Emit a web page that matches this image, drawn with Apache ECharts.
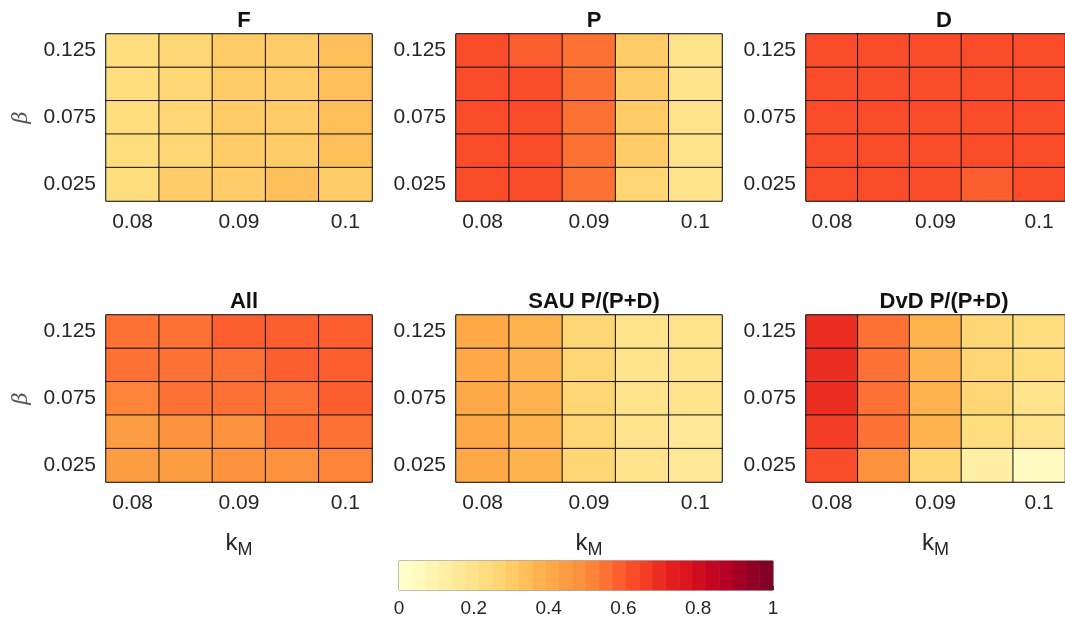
<!DOCTYPE html>
<html>
<head>
<meta charset="utf-8">
<script src="https://cdn.jsdelivr.net/npm/echarts@6/dist/echarts.min.js"></script>
<style>html,body{margin:0;padding:0;background:#fff;}#c{width:1065px;height:625px;}</style>
</head>
<body>
<div id="c"></div>
<script>
// ---- data (rows listed from top β=0.125 down to β=0.025; columns k_M 0.08 → 0.1) ----
const kM = ['0.08', '0.085', '0.09', '0.095', '0.1'];
const beta = ['0.025', '0.05', '0.075', '0.1', '0.125'];
const titles = ['F', 'P', 'D', 'All', 'SAU P/(P+D)', 'DvD P/(P+D)'];
const colorbarTicks = [0, 0.2, 0.4, 0.6, 0.8, 1];

const F = [
  [0.23, 0.27, 0.30, 0.30, 0.34],
  [0.23, 0.27, 0.30, 0.30, 0.34],
  [0.23, 0.27, 0.30, 0.30, 0.34],
  [0.23, 0.27, 0.30, 0.30, 0.34],
  [0.24, 0.30, 0.30, 0.35, 0.32]
];
const P = [
  [0.62, 0.59, 0.55, 0.30, 0.19],
  [0.62, 0.62, 0.55, 0.30, 0.19],
  [0.62, 0.62, 0.55, 0.30, 0.19],
  [0.62, 0.62, 0.55, 0.30, 0.19],
  [0.62, 0.62, 0.55, 0.27, 0.18]
];
const D = [
  [0.62, 0.62, 0.62, 0.62, 0.62],
  [0.62, 0.62, 0.62, 0.62, 0.62],
  [0.62, 0.62, 0.62, 0.62, 0.62],
  [0.62, 0.62, 0.62, 0.62, 0.62],
  [0.62, 0.62, 0.62, 0.59, 0.62]
];
const All = [
  [0.55, 0.55, 0.59, 0.59, 0.59],
  [0.55, 0.55, 0.55, 0.59, 0.59],
  [0.52, 0.55, 0.55, 0.55, 0.59],
  [0.45, 0.48, 0.48, 0.55, 0.55],
  [0.44, 0.44, 0.48, 0.48, 0.52]
];
const SAU = [
  [0.41, 0.36, 0.26, 0.21, 0.20],
  [0.41, 0.36, 0.27, 0.21, 0.20],
  [0.41, 0.36, 0.27, 0.21, 0.20],
  [0.41, 0.36, 0.27, 0.20, 0.16],
  [0.41, 0.36, 0.27, 0.19, 0.15]
];
const DvD = [
  [0.70, 0.55, 0.38, 0.27, 0.25],
  [0.70, 0.55, 0.38, 0.27, 0.23],
  [0.70, 0.55, 0.38, 0.27, 0.21],
  [0.66, 0.55, 0.38, 0.23, 0.18],
  [0.62, 0.48, 0.27, 0.13, 0.05]
];
const panels = [F, P, D, All, SAU, DvD];

// ---- colormap: 28-step YlOrRd ----
const anchors = ['#ffffcc','#ffeda0','#fed976','#feb24c','#fd8d3c','#fc4e2a','#e31a1c','#bd0026','#800026'];
const NSTEP = 28;
function hex2rgb(h){return [1,3,5].map(i=>parseInt(h.substr(i,2),16));}
function interp(t){
  const p = t*(anchors.length-1);
  const i = Math.min(Math.floor(p), anchors.length-2);
  const f = p - i;
  const a = hex2rgb(anchors[i]), b = hex2rgb(anchors[i+1]);
  return 'rgb(' + a.map((v,j)=>Math.round(v+(b[j]-v)*f)).join(',') + ')';
}
const pieces = [];
for (let k = 0; k < NSTEP; k++) {
  pieces.push({min: k/NSTEP, max: (k+1)/NSTEP, color: interp(k/(NSTEP-1))});
}
const cbCats = pieces.map((p, k) => String(k));
const cbData = pieces.map((p, k) => [k, 0, (p.min + p.max) / 2]);

// ---- layout ----
const FONT = '"Liberation Sans", Arial, Helvetica, sans-serif';
const TXT = '#262626';
const colLeft = [106, 456, 806];
const rowTop = [34, 315];
const GW = 266, GH = 167;

const grids = [], xAxes = [], yAxes = [], series = [], titleArr = [];
for (let p = 0; p < 6; p++) {
  const r = Math.floor(p / 3), c = p % 3;
  grids.push({left: colLeft[c], top: rowTop[r], width: GW, height: GH,
    show: true, borderColor: '#666', borderWidth: 1, backgroundColor: 'transparent'});
  xAxes.push({
    type: 'category', gridIndex: p, data: kM,
    axisLine: {show: false},
    axisTick: {show: true, inside: true, length: 3, interval: 1, alignWithLabel: true, lineStyle: {color: '#555'}},
    axisLabel: {interval: 1, fontSize: 21, color: TXT, fontFamily: FONT, margin: 11},
    splitLine: {show: false},
    name: r === 1 ? '{k|k}{m|M}' : '',
    nameLocation: 'middle', nameGap: 45,
    nameTextStyle: {rich: {
      k: {fontSize: 24, color: TXT, fontFamily: FONT},
      m: {fontSize: 18, color: TXT, fontFamily: FONT, padding: [14, 0, 0, 0]}
    }}
  });
  yAxes.push({
    type: 'category', gridIndex: p, data: beta,
    axisLine: {show: false},
    axisTick: {show: false},
    axisLabel: {interval: 1, fontSize: 21, color: TXT, fontFamily: FONT, margin: 10},
    splitLine: {show: false},
    name: c === 0 ? 'β' : '',
    nameLocation: 'middle', nameGap: 74, nameRotate: 90,
    nameTextStyle: {fontSize: 21, fontStyle: 'italic', color: '#555', fontFamily: '"DejaVu Serif", serif'}
  });
  const data = [];
  panels[p].forEach((row, ri) => row.forEach((v, ci) => data.push([ci, beta.length - 1 - ri, v])));
  series.push({
    type: 'heatmap', xAxisIndex: p, yAxisIndex: p, data: data,
    itemStyle: {borderColor: '#111', borderWidth: 1},
    emphasis: {disabled: true}, silent: true, progressive: 0
  });
  titleArr.push({
    text: titles[p], left: colLeft[c] + GW / 2, top: r === 0 ? 5 : 286, textAlign: 'center',
    textStyle: {fontSize: 22, fontWeight: 'bold', color: '#111', fontFamily: FONT}
  });
}

// colorbar grid
grids.push({left: 399, top: 561, width: 374, height: 29, show: true, borderColor: '#555', borderWidth: 1});
xAxes.push({type: 'category', gridIndex: 6, data: cbCats, show: false});
xAxes.push({
  type: 'value', gridIndex: 6, min: 0, max: 1, interval: 0.2, position: 'bottom',
  axisLine: {show: false},
  axisTick: {show: true, inside: true, length: 4, lineStyle: {color: '#333'}},
  axisLabel: {fontSize: 19, color: TXT, fontFamily: FONT, margin: 9,
    formatter: v => colorbarTicks.includes(+v.toFixed(1)) ? String(+v.toFixed(1)) : ''},
  splitLine: {show: false}
});
yAxes.push({type: 'category', gridIndex: 6, data: ['cb'], show: false});
series.push({
  type: 'heatmap', xAxisIndex: 6, yAxisIndex: 6, data: cbData,
  itemStyle: {borderWidth: 0}, emphasis: {disabled: true}, silent: true
});

const chart = echarts.init(document.getElementById('c'), null, {renderer: 'canvas'});
chart.setOption({
  animation: false,
  backgroundColor: '#fff',
  title: titleArr,
  grid: grids,
  xAxis: xAxes,
  yAxis: yAxes,
  visualMap: {type: 'piecewise', show: false, pieces: pieces, dimension: 2,
    seriesIndex: series.map((s, i) => i)},
  series: series
});
</script>
</body>
</html>
